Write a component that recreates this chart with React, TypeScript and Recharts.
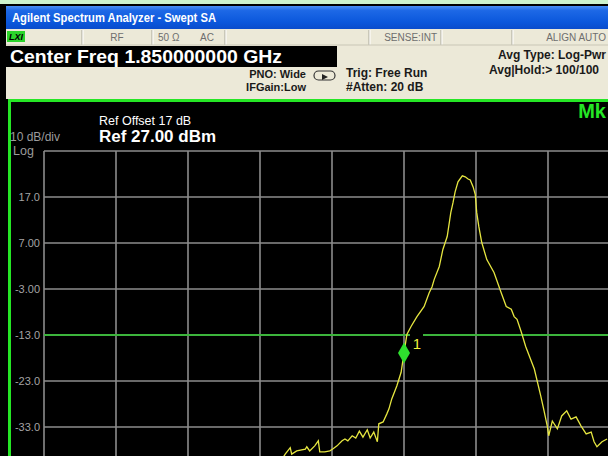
import React from "react";
import {
  LineChart,
  Line,
  XAxis,
  YAxis,
  CartesianGrid,
  ReferenceLine,
  ReferenceDot,
} from "recharts";

// trace: frequency (MHz) and level (dBm)
const freqMHz = [
  1848.29, 1848.35, 1848.42, 1848.44, 1848.51, 1848.63, 1848.65, 1848.69, 1848.76, 1848.81,
  1848.83, 1848.9, 1848.97, 1849.01, 1849.07, 1849.14, 1849.18, 1849.22, 1849.28, 1849.33,
  1849.38, 1849.43, 1849.49, 1849.53, 1849.58, 1849.63, 1849.65, 1849.71, 1849.76, 1849.79,
  1849.83, 1849.9, 1849.96, 1850.0, 1850.04, 1850.1, 1850.18, 1850.28, 1850.35, 1850.39,
  1850.42, 1850.49, 1850.54, 1850.6, 1850.65, 1850.68, 1850.71, 1850.75, 1850.81, 1850.85,
  1850.89, 1850.92, 1850.96, 1850.99, 1851.01, 1851.04, 1851.08, 1851.15, 1851.25, 1851.35,
  1851.42, 1851.49, 1851.53, 1851.57, 1851.63, 1851.69, 1851.81, 1851.9, 1851.94, 1851.99,
  1852.01, 1852.06, 1852.13, 1852.19, 1852.26, 1852.32, 1852.39, 1852.46, 1852.53, 1852.6,
  1852.64, 1852.68, 1852.75, 1852.82,
];
const levelDbm = [
  -40.4, -38.9, -37.5, -38.9, -38.2, -37.8, -37.3, -38.2, -37.1, -36.0,
  -38.4, -38.4, -38.2, -37.8, -37.1, -36.0, -35.6, -36.0, -34.9, -35.4,
  -33.9, -35.2, -33.6, -35.4, -34.1, -36.2, -32.3, -31.9, -30.2, -29.1,
  -26.9, -24.1, -21.1, -16.9, -12.9, -11.1, -9.0, -6.8, -3.8, -2.5,
  -0.9, 1.9, 5.6, 8.4, 13.6, 15.7, 18.1, 20.3, 21.6, 21.4,
  20.9, 20.7, 19.2, 17.5, 13.6, 10.5, 7.1, 3.4, 0.6, -3.8,
  -6.8, -7.4, -9.0, -9.6, -12.4, -15.5, -20.4, -26.3, -29.1, -32.8,
  -34.9, -31.7, -33.4, -30.6, -29.5, -31.3, -30.8, -32.8, -34.5, -34.1,
  -36.2, -37.3, -36.2, -35.6,
];

// 10 dB/div graticule, ref level 27 dBm at the top
const yTicks = [27, 17, 7, -3, -13, -23, -33, -43, -53, -63, -73];
const yTickLabels = ["", "17.0", "7.00", "-3.00", "-13.0", "-23.0", "-33.0", "", "", "", ""];
const xTicks = [1845, 1846, 1847, 1848, 1849, 1850, 1851, 1852, 1853, 1854, 1855];
const displayLineDbm = -13;
const markerFreq = 1850.0;
const markerLevel = -16.9;

const data = freqMHz.map((f, i) => ({ f, level: levelDbm[i] }));

const FONT = "'Liberation Sans', Arial, sans-serif";

function YTick({ x, y, payload }: any) {
  const label = yTickLabels[yTicks.indexOf(payload.value)];
  if (!label) return <g />;
  return (
    <text x={x} y={y} dy={4} textAnchor="end" fill="#a4a4a4" fontSize={11} fontFamily={FONT}>
      {label}
    </text>
  );
}

function MarkerShape({ cx, cy }: any) {
  return (
    <g>
      <rect x={cx + 6} y={cy - 20} width={13} height={17} fill="#000" />
      <text x={cx + 13} y={cy - 4} textAnchor="middle" fill="#f0f03c" fontSize={15} fontFamily={FONT}>
        1
      </text>
      <polygon
        points={`${cx},${cy - 10.5} ${cx + 6},${cy} ${cx},${cy + 10.5} ${cx - 6},${cy}`}
        fill="#2ee02e"
      />
    </g>
  );
}

function Header() {
  const seps = [82, 152, 225, 369, 441, 512];
  const bold = { fontFamily: FONT, fontWeight: 700 } as const;
  return (
    <svg width={608} height={456} style={{ position: "absolute", left: 0, top: 0 }}>
      <defs>
        <linearGradient id="titlebar" x1="0" y1="0" x2="0" y2="1">
          <stop offset="0" stopColor="#4a90f4" />
          <stop offset="0.2" stopColor="#1d68e6" />
          <stop offset="0.7" stopColor="#0b57dc" />
          <stop offset="1" stopColor="#0a4ccc" />
        </linearGradient>
      </defs>
      <rect x={0} y={0} width={608} height={4} fill="#cdf3cd" />
      <rect x={6} y={6} width={602} height={23} fill="url(#titlebar)" />
      <text x={12} y={22} fill="#fff" fontSize={12.5} textLength={204} lengthAdjust="spacingAndGlyphs" {...bold}>
        Agilent Spectrum Analyzer - Swept SA
      </text>

      <rect x={6} y={29} width={602} height={70} fill="#ece9d8" />
      {seps.map((s) => (
        <g key={s}>
          <line x1={s} y1={30} x2={s} y2={45} stroke="#a8a69a" />
          <line x1={s + 1} y1={30} x2={s + 1} y2={45} stroke="#ffffff" />
        </g>
      ))}
      <line x1={6} y1={45} x2={608} y2={45} stroke="#c9c6b6" />
      <rect x={7} y={31} width={18} height={11} fill="#2bd42b" />
      <text x={9} y={40} fill="#000" fontSize={9} fontStyle="italic" {...bold}>
        LXI
      </text>
      <g fill="#6e6e6e" fontSize={10} fontFamily={FONT}>
        <text x={117} y={41} textAnchor="middle">RF</text>
        <text x={158} y={41}>50 Ω</text>
        <text x={200} y={41}>AC</text>
        <text x={437} y={41} textAnchor="end">SENSE:INT</text>
        <text x={606} y={41} textAnchor="end">ALIGN AUTO</text>
      </g>

      <rect x={6} y={46} width={331} height={21} fill="#000" />
      <text x={10} y={63} fill="#fff" fontSize={19} textLength={272} lengthAdjust="spacingAndGlyphs" {...bold}>
        Center Freq 1.850000000 GHz
      </text>

      <g fill="#1a1a1a" {...bold}>
        <text x={606} y={59} fontSize={12} textAnchor="end">Avg Type: Log-Pwr</text>
        <text x={599} y={74} fontSize={12} textAnchor="end">Avg|Hold:&gt; 100/100</text>
        <text x={346} y={77} fontSize={12}>Trig: Free Run</text>
        <text x={346} y={91} fontSize={12}>#Atten: 20 dB</text>
        <text x={306} y={78} fontSize={11} textAnchor="end">PNO: Wide</text>
        <text x={306} y={91} fontSize={11} textAnchor="end">IFGain:Low</text>
      </g>
      <rect x={314} y={71} width={21} height={9} rx={4.5} fill="none" stroke="#333" strokeWidth={1.2} />
      <polygon points="322,74 328,77 322,80" fill="#222" />

      <rect x={8} y={99} width={600} height={3} fill="#25e625" />
      <rect x={8} y={99} width={3} height={357} fill="#25e625" />

      <text x={99} y={125} fill="#fff" fontSize={12.5} fontFamily={FONT}>Ref Offset 17 dB</text>
      <text x={99} y={142} fill="#fff" fontSize={16} textLength={117} lengthAdjust="spacingAndGlyphs" {...bold}>
        Ref 27.00 dBm
      </text>
      <text x={10} y={141} fill="#9c9c9c" fontSize={12} fontFamily={FONT}>10 dB/div</text>
      <text x={13} y={155} fill="#9c9c9c" fontSize={12.5} fontFamily={FONT}>Log</text>
      <text x={606} y={118} fill="#25e625" fontSize={20} textAnchor="end" {...bold}>Mk</text>
    </svg>
  );
}

export default function App() {
  return (
    <div
      style={{
        position: "fixed",
        left: 0,
        top: 0,
        width: 608,
        height: 456,
        overflow: "hidden",
        background: "#000",
      }}
    >
      <div style={{ position: "absolute", left: 0, top: 0 }}>
        <LineChart width={800} height={650} data={data} margin={{ top: 151, right: 36, bottom: 39, left: 0 }}>
          <CartesianGrid stroke="#8c8c8c" strokeWidth={1.6} />
          <XAxis dataKey="f" type="number" domain={[1845, 1855]} ticks={xTicks} hide />
          <YAxis
            type="number"
            domain={[-73, 27]}
            ticks={yTicks}
            interval={0}
            width={44}
            tickLine={false}
            axisLine={false}
            tickSize={4}
            tickMargin={0}
            tick={<YTick />}
            allowDataOverflow
          />
          <ReferenceLine y={displayLineDbm} stroke="#3cb43c" strokeWidth={2} />
          <ReferenceDot x={markerFreq} y={markerLevel} shape={<MarkerShape />} />
          <Line
            dataKey="level"
            type="linear"
            stroke="#e6e640"
            strokeWidth={1.3}
            dot={false}
            isAnimationActive={false}
          />
        </LineChart>
      </div>
      <Header />
    </div>
  );
}
